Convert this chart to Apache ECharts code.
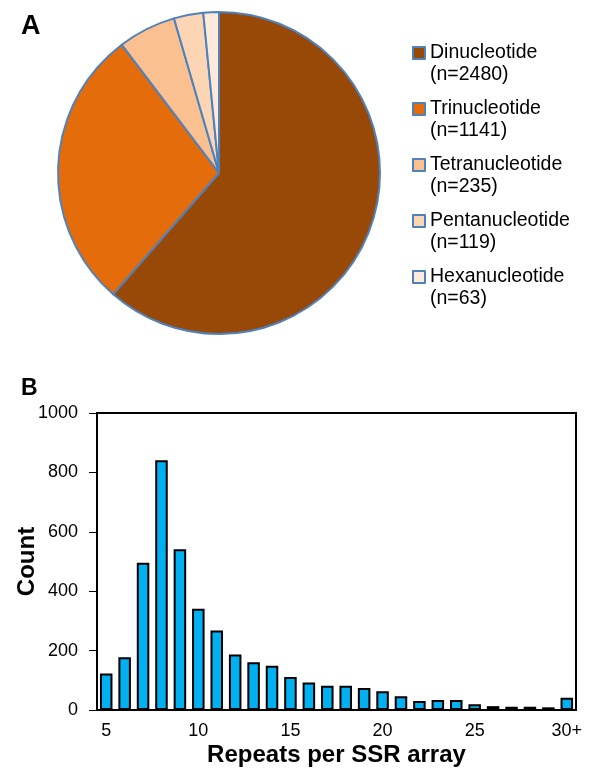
<!DOCTYPE html>
<html>
<head>
<meta charset="utf-8">
<script src="https://cdn.jsdelivr.net/npm/echarts@6/dist/echarts.min.js"></script>
<style>
html,body{margin:0;padding:0;background:#fff;}
#chart{width:600px;height:777px;}
</style>
</head>
<body>
<div id="chart"></div>
<script>
// Panel A: SSR motif classes
const pieNames = ['Dinucleotide', 'Trinucleotide', 'Tetranucleotide', 'Pentanucleotide', 'Hexanucleotide'];
const pieCounts = [2480, 1141, 235, 119, 63];
const pieColors = ['#984807', '#E46C0A', '#FAC090', '#FCD5B5', '#FDEADA'];

// Panel B: repeats per SSR array
const repeatCats = ['5','6','7','8','9','10','11','12','13','14','15','16','17','18','19','20','21','22','23','24','25','26','27','28','29','30+'];
const repeatCounts = [123, 178, 496, 841, 541, 341, 268, 187, 161, 149, 111, 93, 82, 82, 74, 63, 46, 30, 34, 34, 19, 13, 11, 11, 9, 41];
const yTicks = { min: 0, max: 1000, interval: 200 };

const FONT = "'Liberation Sans', Arial, sans-serif";
const chart = echarts.init(document.getElementById('chart'), null, { renderer: 'canvas' });

const pieData = pieNames.map((n, i) => ({ name: n, value: pieCounts[i], itemStyle: { color: pieColors[i] } }));

chart.setOption({
  animation: false,
  textStyle: { fontFamily: FONT },
  title: [
    { text: 'A', left: 16, top: 8, textStyle: { fontSize: 27, fontWeight: 'bold', color: '#000', fontFamily: FONT } },
    { text: 'B', left: 16, top: 372, textStyle: { fontSize: 23, fontWeight: 'bold', color: '#000', fontFamily: FONT } }
  ],
  legend: {
    orient: 'vertical',
    left: 407,
    top: 36,
    padding: 5,
    itemWidth: 12,
    itemHeight: 44,
    itemGap: 10,
    icon: 'path://M0,0M0,44M0,5h12v12h-12z',
    selectedMode: false,
    data: pieNames,
    formatter: function (name) {
      const i = pieNames.indexOf(name);
      return name + '\n(n=' + pieCounts[i] + ')';
    },
    textStyle: { fontSize: 19.5, lineHeight: 22, color: '#000', fontFamily: FONT }
  },
  grid: {
    left: 97, right: 24, top: 413, bottom: 67,
    containLabel: false,
    outerBoundsMode: 'none',
    show: true, borderColor: '#000', borderWidth: 2, backgroundColor: 'transparent'
  },
  xAxis: {
    type: 'category',
    data: repeatCats,
    name: 'Repeats per SSR array',
    nameLocation: 'middle',
    nameGap: 33,
    nameMoveOverlap: false,
    nameTextStyle: { fontSize: 24, fontWeight: 'bold', color: '#000', fontFamily: FONT },
    axisLine: { lineStyle: { color: '#000', width: 2 } },
    axisTick: { show: false },
    axisLabel: { interval: 4, fontSize: 18, color: '#000', margin: 12, fontFamily: FONT }
  },
  yAxis: {
    type: 'value',
    min: yTicks.min, max: yTicks.max, interval: yTicks.interval,
    name: 'Count',
    nameLocation: 'middle',
    nameGap: 58,
    nameMoveOverlap: false,
    nameRotate: 90,
    nameTextStyle: { fontSize: 24, fontWeight: 'bold', color: '#000', fontFamily: FONT },
    axisLine: { show: true, lineStyle: { color: '#000', width: 2 } },
    axisTick: { show: true, length: 8, lineStyle: { color: '#000', width: 1 } },
    splitLine: { show: false },
    axisLabel: { fontSize: 18, color: '#000', margin: 19, fontFamily: FONT, formatter: v => String(v) }
  },
  series: [
    {
      type: 'pie',
      center: [219, 173],
      radius: 161,
      startAngle: 90,
      clockwise: true,
      label: { show: false },
      labelLine: { show: false },
      emphasis: { disabled: true },
      itemStyle: { borderColor: '#4F81BD', borderWidth: 2 },
      data: pieData
    },
    {
      type: 'bar',
      data: repeatCounts,
      barCategoryGap: '32%',
      itemStyle: { color: '#00B0F0', borderColor: '#000', borderWidth: 2 },
      emphasis: { disabled: true }
    }
  ]
});
</script>
</body>
</html>
